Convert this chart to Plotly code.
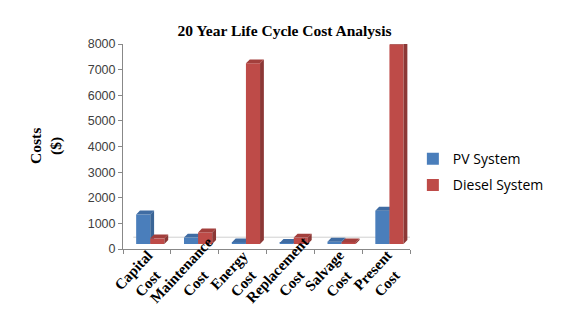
import plotly.graph_objects as go

categories = ["Capital<br>Cost", "Maintenance<br>Cost", "Energy<br>Cost",
              "Replacement<br>Cost", "Salvage<br>Cost", "Present<br>Cost"]
pv_system = [1150, 250, 60, 40, 90, 1300]
diesel_system = [220, 450, 7050, 250, 60, 7780]

# pseudo 3d look (Excel style columns)
FLOOR = 195       # bars stand a bit above the axis line
DX, DY = 0.08, 155  # depth offset of top / side faces
WIDTH = 0.295
series = [
    ("PV System", pv_system, -0.225, "#4A7EBB", "#3A6596", "#3F6CA3"),
    ("Diesel System", diesel_system, 0.07, "#BE4B48", "#8C3836", "#A33F3C"),
]

fig = go.Figure()

for k, (name, vals, off, front, side, top) in enumerate(series):
    xa = "x" if k == 0 else "x2"
    ya = "y" if k == 0 else "y2"
    idx = list(range(len(vals)))
    fig.add_trace(go.Bar(x=idx, y=vals, base=FLOOR, offset=off, width=WIDTH,
                         name=name, marker=dict(color=front, line=dict(width=0)),
                         xaxis=xa, yaxis=ya, legendgroup=name))
    sx, sy, tx, ty = [], [], [], []
    for i, v in enumerate(vals):
        x0, x1 = i + off, i + off + WIDTH
        h = FLOOR + v
        sx += [x1, x1 + DX, x1 + DX, x1, x1, None]
        sy += [FLOOR, FLOOR + DY, h + DY, h, FLOOR, None]
        tx += [x0, x0 + DX, x1 + DX, x1, x0, None]
        ty += [h, h + DY, h + DY, h, h, None]
    fig.add_trace(go.Scatter(x=sx, y=sy, mode="lines", fill="toself", fillcolor=side,
                             line=dict(width=0), hoverinfo="skip", showlegend=False,
                             xaxis=xa, yaxis=ya))
    fig.add_trace(go.Scatter(x=tx, y=ty, mode="lines", fill="toself", fillcolor=top,
                             line=dict(width=0), hoverinfo="skip", showlegend=False,
                             xaxis=xa, yaxis=ya))

n = len(categories)
xr = [-0.5, n - 0.5]
yr = [0, 8000]

# floor back edge + right side edge
fig.add_shape(type="line", x0=-0.5 + 0.215, y0=460, x1=n - 0.5 + 0.215, y1=460,
              line=dict(color="#D0D0D0", width=1), layer="below")
fig.add_shape(type="line", x0=n - 0.5, y0=0, x1=n - 0.5 + 0.215, y1=460,
              line=dict(color="#A0A0A0", width=1), layer="below")

# category labels, rotated, lines centred like Excel does
for i, c in enumerate(categories):
    fig.add_annotation(text=f"<b>{c}</b>", x=i, y=0, xref="x", yref="y",
                       xshift=-6, yshift=-28, xanchor="center", yanchor="middle",
                       textangle=-47, align="center", showarrow=False,
                       font=dict(family="Liberation Serif", size=15, color="black"))

# page body has an 8px margin, so the figure is drawn 8px smaller / shifted
fig.update_layout(
    width=553, height=315,
    margin=dict(l=115, r=132, t=36, b=74),
    paper_bgcolor="white", plot_bgcolor="white",
    barmode="overlay",
    title=dict(text="<b>20 Year Life Cycle Cost Analysis</b>", x=0.5, xanchor="center",
               y=0.927, yanchor="middle",
               font=dict(family="Liberation Serif", size=15.5, color="black")),
    xaxis=dict(range=xr, tickvals=list(range(n)), showticklabels=False,
               ticks="", showline=True, linecolor="#888888", linewidth=1,
               showgrid=False, zeroline=False, automargin=False,
               minor=dict(ticks="outside", tick0=-0.5, dtick=1, ticklen=4,
                          tickcolor="#888888", showgrid=False)),
    yaxis=dict(range=yr, dtick=1000, ticks="outside", ticklen=4, tickcolor="#888888",
               showline=True, linecolor="#888888", linewidth=1, showgrid=False,
               zeroline=False, automargin=False,
               tickfont=dict(family="Liberation Sans", size=12.5, color="#404040")),
    xaxis2=dict(range=xr, overlaying="x", visible=False),
    yaxis2=dict(range=yr, overlaying="y", visible=False),
    legend=dict(x=1.01, xanchor="left", y=0.516, yanchor="top",
                traceorder="grouped", tracegroupgap=5,
                font=dict(family="Open Sans", size=14, color="black"),
                bgcolor="rgba(0,0,0,0)"),
    showlegend=True,
)

fig.add_annotation(text="<b>Costs<br>($)</b>", xref="paper", yref="paper",
                   x=-0.27, y=0.5, textangle=-90, showarrow=False,
                   xanchor="center", yanchor="middle",
                   font=dict(family="Liberation Serif", size=15.5, color="black"))

fig.write_html("out.html")
